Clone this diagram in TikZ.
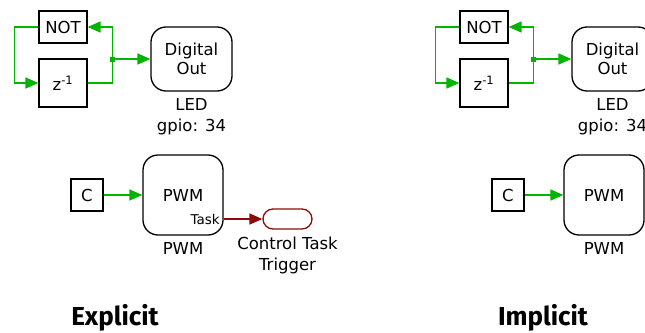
\documentclass[tikz,border=0pt]{standalone}
\usepackage{fontspec}
\setmainfont{DejaVu Sans}
\newfontfamily\titlefont{Fira Sans}
\usetikzlibrary{arrows.meta,positioning,shapes.misc}
\definecolor{sgreen}{HTML}{00B400}
\definecolor{sred}{HTML}{8B0A0A}
\tikzset{
  blk/.style={draw=black,fill=white,line width=1.3pt,inner sep=0pt,align=center,font=\fontsize{16.5}{19}\selectfont},
  rblk/.style={blk,rounded corners=15pt},
  trig/.style={draw=sred,rounded rectangle,line width=1.3pt,minimum width=49pt,minimum height=20pt,inner sep=0pt},
  jdot/.style={fill=sgreen,minimum size=5pt,inner sep=0pt},
  garr/.style={-{Triangle[length=13pt,width=11pt]},line width=1.6pt,draw=sgreen},
  rarr/.style={-{Triangle[length=13pt,width=11pt]},line width=1.6pt,draw=sred},
  lbl/.style={font=\fontsize{16.5}{21}\selectfont,align=center,inner sep=0pt},
  small/.style={font=\fontsize{13.5}{15}\selectfont,inner sep=0pt},
  ttl/.style={font=\titlefont\bfseries\fontsize{26}{30}\selectfont,inner sep=0pt},
}
\begin{document}
\begin{tikzpicture}[x=1pt,y=-1pt]
  \useasboundingbox (0,0) rectangle (645,332);
  \clip (0,0) rectangle (645,332);
  % explicit
  \node[blk,minimum width=48pt,minimum height=32pt] (not1) at (63,27) {NOT};
  \node[blk,minimum width=48pt,minimum height=48pt] (z1) at (63,83) {z\textsuperscript{-1}};
  \node[rblk,minimum width=81pt,minimum height=64pt] (dig1) at (191.5,59) {Digital\\Out};
  \node[lbl,below=7pt of dig1] (led1) {LED\\gpio: 34};
  \node[jdot] (j1) at (112,59) {};
  \draw[garr] (not1.west) -- ++(-24,0) |- (z1.west);
  \draw[garr] (z1.east) -- ++(25,0) |- (not1.east);
  \draw[garr] (j1) -- (dig1.west);
  \node[blk,minimum size=32pt] (c1) at (87,195) {C};
  \node[rblk,minimum size=80pt] (pwm1) at (183,195) {PWM};
  \node[lbl,below=7pt of pwm1] (pwmlbl1) {PWM};
  \node[small,anchor=east] (task1) at (220,219) {Task};
  \node[trig] (trig1) at (287.5,219) {};
  \node[lbl,below=7pt of trig1] (triglbl1) {Control Task\\Trigger};
  \draw[garr] (c1) -- (pwm1);
  \draw[rarr] (task1.east -| pwm1.east) -- (trig1);
  \node[ttl] (ex) at (115,318) {Explicit};
  % implicit
  \node[blk,minimum width=48pt,minimum height=32pt] (not2) at (484,27) {NOT};
  \node[blk,minimum width=48pt,minimum height=48pt] (z2) at (484,83) {z\textsuperscript{-1}};
  \node[rblk,minimum width=81pt,minimum height=64pt] (dig2) at (612.5,59) {Digital\\Out};
  \node[lbl,below=7pt of dig2] (led2) {LED\\gpio: 34};
  \node[jdot] (j2) at (533,59) {};
  \draw[garr] (not2.west) -- ++(-24,0) |- (z2.west);
  \draw[garr] (z2.east) -- ++(25,0) |- (not2.east);
  \draw[garr] (j2) -- (dig2.west);
  \node[blk,minimum size=32pt] (c2) at (508,195) {C};
  \node[rblk,minimum size=80pt] (pwm2) at (604,195) {PWM};
  \node[lbl,below=7pt of pwm2] (pwmlbl2) {PWM};
  \draw[garr] (c2) -- (pwm2);
  \node[ttl] (im) at (543,318) {Implicit};
\end{tikzpicture}
\end{document}
